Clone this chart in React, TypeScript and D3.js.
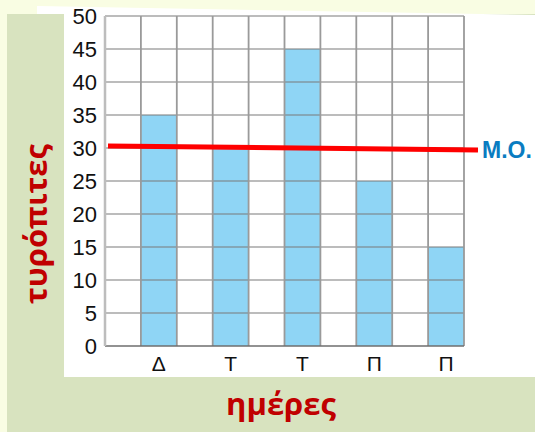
import React from "react";
import * as d3 from "d3";

const days = ["Δ", "Τ", "Τ", "Π", "Π"];
const pies = [35, 30, 45, 25, 15];
const yTicks = [0, 5, 10, 15, 20, 25, 30, 35, 40, 45, 50];
const meanLineEnds = [30.3, 29.7];
const meanLabel = "Μ.Ο.";
const yTitle = "τυρόπιτες";
const xTitle = "ημέρες";

export default function App() {
  const W = 535, H = 432;
  const left = 105, right = 464, top = 16, bottom = 346;
  const x = d3.scaleBand<number>().domain(d3.range(days.length)).range([left, right]).padding(0);
  const y = d3.scaleLinear().domain([0, 50]).range([bottom, top]);
  const bw = x.bandwidth();
  const cols = d3.range(days.length * 2 + 1).map((i) => left + (i * (right - left)) / (days.length * 2));
  const lineX0 = left + 3, lineX1 = right + 14;
  const lineY = d3.scaleLinear().domain([lineX0, lineX1]).range([y(meanLineEnds[0]), y(meanLineEnds[1])]);
  return (
    <svg width={W} height={H} style={{ position: "absolute", left: 0, top: 0, display: "block" }}>
      <rect x={0} y={0} width={W} height={H} fill="#f9fde3" />
      <rect x={7} y={14} width={W - 7} height={H - 14} fill="#d8e3bf" />
      <polygon points={`37,6 ${W},15 ${W},377 64,377 64,14 37,14`} fill="#ffffff" />
      {pies.map((v, i) => (
        <rect key={i} x={(x(i) as number) + bw / 2} y={y(v)} width={bw / 2} height={bottom - y(v)} fill="#8fd5f5" />
      ))}
      {yTicks.filter((t) => t > 0).map((t) => (
        <line key={t} x1={left} x2={right} y1={y(t)} y2={y(t)} stroke="#7a7a7a" strokeWidth={1.2} />
      ))}
      {cols.slice(1).map((c, i) => (
        <line key={i} x1={c} x2={c} y1={top} y2={bottom} stroke="#9a9a9a" strokeWidth={1.8} />
      ))}
      <line x1={left} x2={right} y1={bottom} y2={bottom} stroke="#6e6e6e" strokeWidth={1.5} />
      <line x1={left} x2={left} y1={top} y2={bottom} stroke="#bdbdbd" strokeWidth={2.5} />
      {yTicks.map((t) => (
        <text key={t} x={97} y={y(t)} dy="0.36em" textAnchor="end" fontFamily="Liberation Sans, Arial, sans-serif" fontSize={22} fill="#111">
          {t}
        </text>
      ))}
      {days.map((d, i) => (
        <text key={i} x={(x(i) as number) + (bw * 3) / 4} y={371} textAnchor="middle" fontFamily="Liberation Sans, Arial, sans-serif" fontSize={21} fill="#111">
          {d}
        </text>
      ))}
      <line x1={lineX0} x2={lineX1} y1={lineY(lineX0)} y2={lineY(lineX1)} stroke="#ff0000" strokeWidth={5} />
      <text x={482} y={158} fontFamily="Liberation Sans, Arial, sans-serif" fontWeight="bold" fontSize={23} fill="#0a7cc1">
        {meanLabel}
      </text>
      <text transform="translate(47,224) rotate(-90)" textAnchor="middle" fontFamily="Open Sans, sans-serif" fontWeight="bold" fontSize={31} fill="#c00000">
        {yTitle}
      </text>
      <text x={281} y={415} textAnchor="middle" fontFamily="Open Sans, sans-serif" fontWeight="bold" fontSize={31} fill="#c00000">
        {xTitle}
      </text>
    </svg>
  );
}
